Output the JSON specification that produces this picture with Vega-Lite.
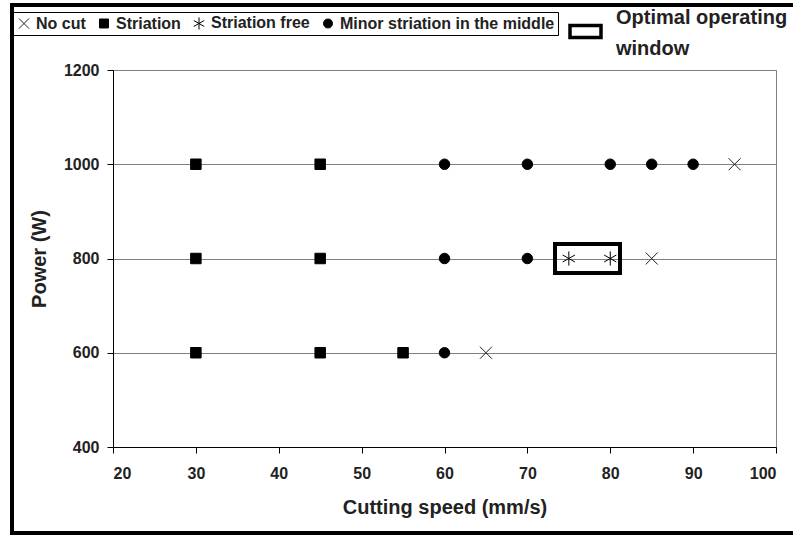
{
  "$schema": "https://vega.github.io/schema/vega-lite/v6.json",
  "width": 663,
  "height": 377,
  "autosize": {"type": "none"},
  "padding": {"left": 113, "top": 70, "right": 17, "bottom": 89},
  "background": "white",
  "config": {
    "font": "Liberation Sans",
    "view": {"stroke": "#808080", "strokeWidth": 1},
    "axis": {
      "labelFont": "Liberation Sans", "labelFontWeight": "bold", "labelFontSize": 16, "labelColor": "#222",
      "titleFont": "Liberation Sans", "titleFontWeight": "bold", "titleFontSize": 20, "titleColor": "#222",
      "domainColor": "black", "tickColor": "black", "tickSize": 6, "domainWidth": 1, "tickWidth": 1
    }
  },
  "data": {"values": [
    {"speed": 30, "power": 1000, "result": "Striation"},
    {"speed": 45, "power": 1000, "result": "Striation"},
    {"speed": 60, "power": 1000, "result": "Minor striation in the middle"},
    {"speed": 70, "power": 1000, "result": "Minor striation in the middle"},
    {"speed": 80, "power": 1000, "result": "Minor striation in the middle"},
    {"speed": 85, "power": 1000, "result": "Minor striation in the middle"},
    {"speed": 90, "power": 1000, "result": "Minor striation in the middle"},
    {"speed": 95, "power": 1000, "result": "No cut"},
    {"speed": 30, "power": 800, "result": "Striation"},
    {"speed": 45, "power": 800, "result": "Striation"},
    {"speed": 60, "power": 800, "result": "Minor striation in the middle"},
    {"speed": 70, "power": 800, "result": "Minor striation in the middle"},
    {"speed": 75, "power": 800, "result": "Striation free"},
    {"speed": 80, "power": 800, "result": "Striation free"},
    {"speed": 85, "power": 800, "result": "No cut"},
    {"speed": 30, "power": 600, "result": "Striation"},
    {"speed": 45, "power": 600, "result": "Striation"},
    {"speed": 55, "power": 600, "result": "Striation"},
    {"speed": 60, "power": 600, "result": "Minor striation in the middle"},
    {"speed": 65, "power": 600, "result": "No cut"}
  ]},
  "layer": [
    {
      "mark": {"type": "rect", "fill": null, "stroke": "black", "strokeWidth": 3, "clip": false},
      "encoding": {
        "x": {"datum": 7.81, "type": "quantitative", "scale": {"domain": [20, 100]}},
        "x2": {"datum": 103},
        "y": {"datum": 1338, "type": "quantitative", "scale": {"domain": [400, 1200]}},
        "y2": {"datum": 217.5}
      }
    },
    {
      "mark": {"type": "point", "filled": false, "fill": "black", "strokeWidth": 1, "opacity": 1, "size": 110},
      "encoding": {
        "x": {"field": "speed", "type": "quantitative", "scale": {"domain": [20, 100], "nice": false},
          "axis": {"title": "Cutting speed (mm/s)", "values": [20,30,40,50,60,70,80,90,100], "grid": false, "labelPadding": 12, "titlePadding": 16}},
        "y": {"field": "power", "type": "quantitative", "scale": {"domain": [400, 1200], "nice": false},
          "axis": {"title": "Power (W)", "format": "d", "values": [400,600,800,1000,1200], "grid": true, "gridColor": "#808080", "gridWidth": 1, "labelPadding": 8, "titlePadding": 14}},
        "color": {"field": "result", "type": "nominal",
          "scale": {"domain": ["No cut", "Striation", "Striation free", "Minor striation in the middle"], "range": ["#222", "black", "black", "black"]}},
        "shape": {"field": "result", "type": "nominal",
          "scale": {"domain": ["No cut", "Striation", "Striation free", "Minor striation in the middle"],
                    "range": ["M-1.15,-1.15L1.15,1.15M-1.15,1.15L1.15,-1.15", "square", "M0,-1.35L0,1.35M-1.17,-0.67L1.17,0.67M-1.17,0.67L1.17,-0.67", "circle"]},
          "legend": {"title": null, "orient": "none", "direction": "horizontal", "legendX": -100, "legendY": -58,
            "strokeColor": "black", "padding": 3, "labelFont": "Liberation Sans", "labelFontWeight": "bold", "labelFontSize": 16, "labelColor": "#222",
            "symbolFillColor": "black", "symbolStrokeWidth": 1, "symbolSize": 80, "symbolOpacity": 1,
            "labelOffset": 4, "columnPadding": 10, "labelLimit": 400}}
      }
    },
    {
      "mark": {"type": "rect", "fill": null, "strokeWidth": 3},
      "encoding": {
        "x": {"datum": 73.3},
        "x2": {"datum": 81.2},
        "y": {"datum": 770},
        "y2": {"datum": 831},
        "stroke": {"datum": "Optimal operating window", "type": "nominal", "scale": {"range": ["black"]},
          "legend": {"title": ["Optimal operating", "window"], "titleOrient": "right", "titleAnchor": "start", "titleBaseline": "top",
            "titleFont": "Liberation Sans", "titleFontWeight": "bold", "titleFontSize": 20, "titleColor": "#222", "titleLineHeight": 31, "titlePadding": 8,
            "orient": "none", "legendX": 455, "legendY": -62, "padding": 0,
            "symbolType": "M-1,0H1V0.78H-1Z", "symbolSize": 961, "symbolStrokeWidth": 3.5, "symbolFillColor": "white", "symbolStrokeColor": "black",
            "labelExpr": "''", "labelOffset": 0, "labelLimit": 400}}
      }
    }
  ]
}
